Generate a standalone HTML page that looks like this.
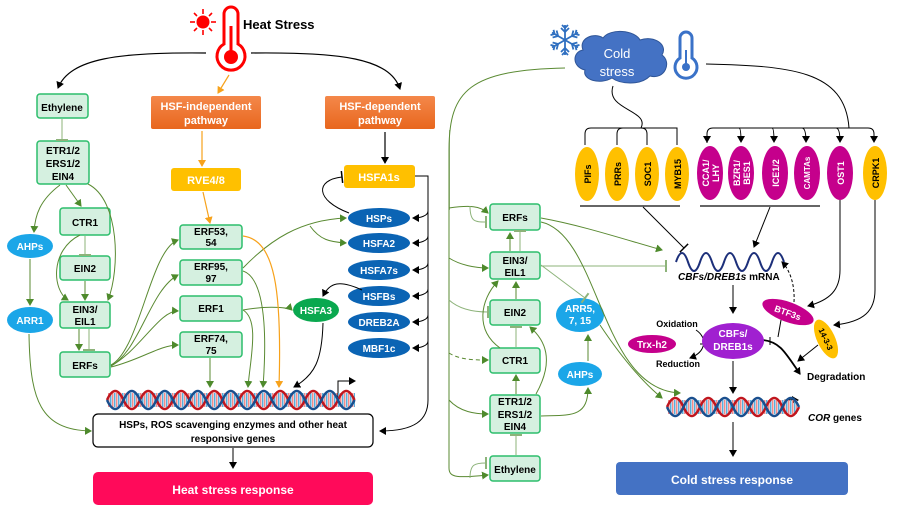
<!DOCTYPE html>
<html><head><meta charset="utf-8"><style>
html,body{margin:0;padding:0;background:#fff}
svg{display:block}
text{font-family:"Liberation Sans",Arial,sans-serif;font-weight:bold}
</style></head><body>
<svg width="900" height="519" viewBox="0 0 900 519" xmlns="http://www.w3.org/2000/svg">
<defs>
<marker id="ak" markerWidth="8" markerHeight="8" refX="6" refY="4" orient="auto" markerUnits="userSpaceOnUse"><path d="M0,0 L7,4 L0,8 Z" fill="#000"/></marker>
<marker id="ag" markerWidth="8" markerHeight="8" refX="6" refY="4" orient="auto" markerUnits="userSpaceOnUse"><path d="M0,0 L7,4 L0,8 Z" fill="#4E8A2C"/></marker>
<marker id="ao" markerWidth="8" markerHeight="8" refX="6" refY="4" orient="auto" markerUnits="userSpaceOnUse"><path d="M0,0 L7,4 L0,8 Z" fill="#F7A21B"/></marker>
<marker id="tg" markerWidth="4" markerHeight="12" refX="2" refY="6" orient="auto" markerUnits="userSpaceOnUse"><path d="M2,0 L2,12" stroke="#8DB37A" stroke-width="2"/></marker>
<marker id="tk" markerWidth="4" markerHeight="12" refX="2" refY="6" orient="auto" markerUnits="userSpaceOnUse"><path d="M2,0 L2,12" stroke="#000" stroke-width="1.5"/></marker>
<pattern id="rung" width="4" height="20" patternUnits="userSpaceOnUse"><rect x="0" y="0" width="1.5" height="20" fill="#F08C8C"/><rect x="2" y="0" width="1.5" height="20" fill="#5AAEDC"/></pattern>
<linearGradient id="og" x1="0" y1="0" x2="0" y2="1"><stop offset="0" stop-color="#F4884A"/><stop offset="1" stop-color="#E8671E"/></linearGradient>
<g id="arm"><line x1="0" y1="0" x2="0" y2="-15" /><line x1="0" y1="-8" x2="-4" y2="-12"/><line x1="0" y1="-8" x2="4" y2="-12"/><line x1="0" y1="-12" x2="-3" y2="-15"/><line x1="0" y1="-12" x2="3" y2="-15"/></g>
</defs>

<!-- ===== HEAT SIDE ===== -->
<g stroke="#F00" stroke-width="1.6">
<line x1="190" y1="22" x2="195" y2="22"/><line x1="211" y1="22" x2="216" y2="22"/>
<line x1="203" y1="9" x2="203" y2="14"/><line x1="203" y1="30" x2="203" y2="35"/>
<line x1="194" y1="13" x2="197" y2="16"/><line x1="209" y1="28" x2="212" y2="31"/>
<line x1="212" y1="13" x2="209" y2="16"/><line x1="194" y1="31" x2="197" y2="28"/>
</g>
<circle cx="203" cy="22" r="6.5" fill="#F00"/>
<path d="M224,44 L224,14 A7,7 0 0 1 238,14 L238,44 A14,14 0 1 1 224,44 Z" fill="#fff" stroke="#F00" stroke-width="3"/>
<line x1="231" y1="26" x2="231" y2="52" stroke="#F00" stroke-width="3"/>
<circle cx="231" cy="57" r="7" fill="#F00"/>
<text x="243" y="29" font-size="13">Heat Stress</text>
<path d="M206,53 C120,52 70,58 58,88" fill="none" stroke="#000" stroke-width="1.2" marker-end="url(#ak)"/>
<path d="M251,53 C340,52 390,58 400,89" fill="none" stroke="#000" stroke-width="1.2" marker-end="url(#ak)"/>
<path d="M229,75 L218,93" fill="none" stroke="#F7A21B" stroke-width="1.2" marker-end="url(#ao)"/>

<rect x="151" y="96" width="110" height="33" rx="2" fill="url(#og)"/>
<text x="206" y="110" font-size="11" fill="#fff" text-anchor="middle">HSF-independent</text>
<text x="206" y="124" font-size="11" fill="#fff" text-anchor="middle">pathway</text>
<rect x="325" y="96" width="110" height="33" rx="2" fill="url(#og)"/>
<text x="380" y="110" font-size="11" fill="#fff" text-anchor="middle">HSF-dependent</text>
<text x="380" y="124" font-size="11" fill="#fff" text-anchor="middle">pathway</text>
<line x1="202" y1="131" x2="202" y2="166" stroke="#F7A21B" stroke-width="1.2" marker-end="url(#ao)"/>
<line x1="385" y1="132" x2="385" y2="163" stroke="#000" stroke-width="1.2" marker-end="url(#ak)"/>
<rect x="171" y="168" width="70" height="23" rx="3" fill="#FFC000"/>
<text x="206" y="184" font-size="11" fill="#fff" text-anchor="middle">RVE4/8</text>
<rect x="344" y="165" width="71" height="23" rx="3" fill="#FFC000"/>
<text x="379" y="181" font-size="11" fill="#fff" text-anchor="middle">HSFA1s</text>
<line x1="203" y1="192" x2="210" y2="223" stroke="#F7A21B" stroke-width="1.2" marker-end="url(#ao)"/>

<g fill="#D5F0E0" stroke="#2DBE6C" stroke-width="1.5">
<rect x="37" y="94" width="51" height="24" rx="3"/>
<rect x="37" y="141" width="52" height="43" rx="3"/>
<rect x="60" y="208" width="50" height="27" rx="3"/>
<rect x="60" y="256" width="50" height="24" rx="3"/>
<rect x="60" y="302" width="50" height="26" rx="3"/>
<rect x="60" y="352" width="50" height="25" rx="3"/>
<rect x="180" y="225" width="62" height="24" rx="3"/>
<rect x="180" y="260" width="62" height="25" rx="3"/>
<rect x="180" y="296" width="62" height="25" rx="3"/>
<rect x="180" y="332" width="62" height="25" rx="3"/>
</g>
<g font-size="10" text-anchor="middle">
<text x="62" y="111">Ethylene</text>
<text x="63" y="154">ETR1/2</text><text x="63" y="167">ERS1/2</text><text x="63" y="180">EIN4</text>
<text x="85" y="226">CTR1</text>
<text x="85" y="272">EIN2</text>
<text x="85" y="313">EIN3/</text><text x="85" y="325">EIL1</text>
<text x="85" y="369">ERFs</text>
<text x="211" y="235">ERF53,</text><text x="211" y="246">54</text>
<text x="211" y="270">ERF95,</text><text x="211" y="282">97</text>
<text x="211" y="312">ERF1</text>
<text x="211" y="342">ERF74,</text><text x="211" y="354">75</text>
</g>
<ellipse cx="30" cy="246" rx="23" ry="12" fill="#1BA6E8"/>
<text x="30" y="250" font-size="10" fill="#fff" text-anchor="middle">AHPs</text>
<ellipse cx="30" cy="320" rx="23" ry="13" fill="#1BA6E8"/>
<text x="30" y="324" font-size="10" fill="#fff" text-anchor="middle">ARR1</text>
<g fill="#0B64B4">
<ellipse cx="379" cy="218" rx="31" ry="10"/><ellipse cx="379" cy="243" rx="31" ry="10"/>
<ellipse cx="379" cy="270" rx="31" ry="10"/><ellipse cx="379" cy="296" rx="31" ry="10"/>
<ellipse cx="379" cy="322" rx="31" ry="10"/><ellipse cx="379" cy="348" rx="31" ry="10"/>
</g>
<g font-size="10" fill="#fff" text-anchor="middle">
<text x="379" y="222">HSPs</text><text x="379" y="247">HSFA2</text><text x="379" y="274">HSFA7s</text>
<text x="379" y="300">HSFBs</text><text x="379" y="326">DREB2A</text><text x="379" y="352">MBF1c</text>
</g>
<ellipse cx="316" cy="310" rx="23" ry="12" fill="#0AA84F"/>
<text x="316" y="314" font-size="10" fill="#fff" text-anchor="middle">HSFA3</text>

<g fill="none" stroke="#5A8A32" stroke-width="1">
<line x1="62" y1="119" x2="62" y2="140" stroke="#8DB37A" marker-end="url(#tg)"/>
<path d="M60,185 C40,200 35,215 34,232" marker-end="url(#ag)"/>
<path d="M66,185 L81,206" marker-end="url(#ag)"/>
<path d="M88,184 C120,200 120,270 108,300" marker-end="url(#ag)"/>
<line x1="85" y1="236" x2="85" y2="255" stroke="#8DB37A" marker-end="url(#tg)"/>
<line x1="85" y1="281" x2="85" y2="300" marker-end="url(#ag)"/>
<path d="M80,235 C50,250 52,290 68,300" marker-end="url(#ag)"/>
<line x1="79" y1="329" x2="79" y2="350" marker-end="url(#ag)"/>
<line x1="89" y1="329" x2="89" y2="350" stroke="#8DB37A" marker-end="url(#tg)"/>
<line x1="30" y1="259" x2="30" y2="305" marker-end="url(#ag)"/>
<path d="M29,334 C30,400 40,430 91,431" marker-end="url(#ag)"/>
<path d="M111,365 C140,350 150,250 178,240" marker-end="url(#ag)"/>
<path d="M111,366 C140,350 150,290 178,275" marker-end="url(#ag)"/>
<path d="M111,366 C140,350 160,310 178,311" marker-end="url(#ag)"/>
<path d="M111,367 C140,360 160,345 178,345" marker-end="url(#ag)"/>
<line x1="210" y1="358" x2="210" y2="387" marker-end="url(#ag)"/>
<path d="M243,310 C260,320 250,360 248,387" marker-end="url(#ag)"/>
<path d="M243,271 C270,280 265,360 263,387" marker-end="url(#ag)"/>
<path d="M243,310 C270,305 290,308 292,310" marker-end="url(#ag)"/>
<path d="M243,268 C270,240 300,220 346,218" marker-end="url(#ag)"/>
<path d="M310,226 C320,240 330,242 346,243" marker-end="url(#ag)"/>
</g>
<path d="M243,236 C275,240 282,290 279,387" fill="none" stroke="#F7A21B" stroke-width="1.2" marker-end="url(#ao)"/>
<g fill="none" stroke="#000" stroke-width="1">
<path d="M349,213 C315,200 315,180 342,177" marker-end="url(#tk)"/>
<path d="M415,176 L428,176 L428,400 C428,420 415,431 380,431" marker-end="url(#ak)"/>
<path d="M428,211 C428,216 420,218 413,218" marker-end="url(#ak)"/>
<path d="M428,236 C428,241 420,243 413,243" marker-end="url(#ak)"/>
<path d="M428,263 C428,268 420,270 413,270" marker-end="url(#ak)"/>
<path d="M428,289 C428,294 420,296 413,296" marker-end="url(#ak)"/>
<path d="M428,315 C428,320 420,322 413,322" marker-end="url(#ak)"/>
<path d="M428,341 C428,346 420,348 413,348" marker-end="url(#ak)"/>
<path d="M362,290 C340,280 330,282 323,296" marker-end="url(#ak)"/>
<path d="M323,323 C322,360 315,375 294,387" marker-end="url(#ak)"/>
<path d="M338,401 L338,381 L355,381" marker-end="url(#ak)"/>
<line x1="233" y1="448" x2="233" y2="468" marker-end="url(#ak)"/>
</g>
<rect x="108" y="393" width="247" height="14" fill="url(#rung)"/>
<path d="M107,400 q8.25,-18 16.5,0 t16.5,0 t16.5,0 t16.5,0 t16.5,0 t16.5,0 t16.5,0 t16.5,0 t16.5,0 t16.5,0 t16.5,0 t16.5,0 t16.5,0 t16.5,0 t16.5,0" fill="none" stroke="#C0161E" stroke-width="2.5"/>
<path d="M107,400 q8.25,18 16.5,0 t16.5,0 t16.5,0 t16.5,0 t16.5,0 t16.5,0 t16.5,0 t16.5,0 t16.5,0 t16.5,0 t16.5,0 t16.5,0 t16.5,0 t16.5,0 t16.5,0" fill="none" stroke="#1A4F8E" stroke-width="2.5"/>
<rect x="93" y="414" width="280" height="33" rx="5" fill="#fff" stroke="#000" stroke-width="1.2"/>
<text x="233" y="428" font-size="10" text-anchor="middle">HSPs, ROS scavenging enzymes and other heat</text>
<text x="233" y="442" font-size="10" text-anchor="middle">responsive genes</text>
<rect x="93" y="472" width="280" height="33" rx="5" fill="#FF0A5A"/>
<text x="233" y="494" font-size="12" fill="#fff" text-anchor="middle">Heat stress response</text>

<line x1="449.5" y1="130" x2="449.5" y2="210" stroke="#A8C09A" stroke-width="1"/>

<!-- ===== COLD SIDE ===== -->
<g stroke="#2F6FC0" stroke-width="1.8" fill="none" transform="translate(565,40)">
<use href="#arm"/><use href="#arm" transform="rotate(60)"/><use href="#arm" transform="rotate(120)"/>
<use href="#arm" transform="rotate(180)"/><use href="#arm" transform="rotate(240)"/><use href="#arm" transform="rotate(300)"/>
</g>
<path d="M583,50 C578,38 595,32 603,38 C610,28 635,30 640,40 C655,35 668,45 662,55 C672,62 665,80 650,76 C640,86 620,84 612,78 C600,85 582,80 585,70 C572,67 572,52 583,50 Z" fill="#4472C4" stroke="#2F5597"/>
<text x="617" y="58" font-size="13" fill="#fff" text-anchor="middle" style="font-weight:normal">Cold</text>
<text x="617" y="76" font-size="13" fill="#fff" text-anchor="middle" style="font-weight:normal">stress</text>
<path d="M680,58 L680,38 A5,5 0 0 1 692,38 L692,58 A11,11 0 1 1 680,58 Z" fill="#fff" stroke="#3A72C8" stroke-width="3"/>
<line x1="686" y1="50" x2="686" y2="64" stroke="#3A72C8" stroke-width="2"/><circle cx="686" cy="67" r="4" fill="#3A72C8"/>
<g fill="none" stroke="#000" stroke-width="1">
<path d="M613,86 C605,110 650,110 641,128"/>
<path d="M585,145 L585,134 Q585,128 591,128 L677,128 L677,145" />
<path d="M617,145 L617,134 Q617,128 623,128"/><path d="M647,145 L647,134 Q647,128 641,128"/>
<path d="M706,64 C790,66 845,70 849,128"/>
<path d="M707,143 L707,134 Q707,128 713,128 L868,128 Q874,128 874,134 L874,142" marker-end="url(#ak)"/>
<path d="M739,128 Q741,128 741,142" marker-end="url(#ak)"/><path d="M772,128 Q774,128 774,142" marker-end="url(#ak)"/>
<path d="M802,128 Q806,128 806,142" marker-end="url(#ak)"/><path d="M836,128 Q840,128 840,142" marker-end="url(#ak)"/>
<line x1="707" y1="134" x2="707" y2="142" marker-end="url(#ak)"/>
<line x1="580" y1="206" x2="680" y2="206" stroke="#333" stroke-width="1.5"/>
<line x1="700" y1="206" x2="820" y2="206" stroke="#333" stroke-width="1.5"/>
<line x1="643" y1="207" x2="684" y2="248" marker-end="url(#tk)"/>
<line x1="770" y1="207" x2="754" y2="247" marker-end="url(#ak)"/>
<path d="M840,200 L840,270 C840,290 830,300 808,306" marker-end="url(#ak)"/>
<path d="M875,200 L875,290 C875,310 865,322 834,325" marker-end="url(#ak)"/>
<path d="M794,302 C795,285 790,270 782,262" stroke-dasharray="3,2" marker-end="url(#ak)"/>
<line x1="781" y1="320" x2="778" y2="337"/>
<line x1="733" y1="285" x2="733" y2="313" marker-end="url(#ak)"/>
<path d="M700,344 L713,344" marker-end="url(#ak)"/>
<path d="M696,330 C708,338 706,352 690,358" marker-end="url(#ak)"/>
<line x1="733" y1="361" x2="733" y2="393" marker-end="url(#ak)"/>
<path d="M818,345 L798,361" marker-end="url(#ak)"/>
<line x1="733" y1="422" x2="733" y2="456" marker-end="url(#ak)"/>
<path d="M785,409 L785,400 L798,400" marker-end="url(#ak)"/>
</g>
<path d="M763,340 C780,342 785,352 800,374" fill="none" stroke="#000" stroke-width="1.8" marker-end="url(#ak)"/>
<line x1="770" y1="337" x2="770" y2="345" stroke="#000"/>
<g fill="#FFC000"><ellipse cx="587" cy="174" rx="12" ry="27"/><ellipse cx="617" cy="174" rx="12" ry="27"/><ellipse cx="647" cy="174" rx="12" ry="27"/><ellipse cx="677" cy="174" rx="12" ry="27"/><ellipse cx="875" cy="173" rx="12" ry="27"/></g>
<g fill="#C5008C"><ellipse cx="710" cy="173" rx="13" ry="27"/><ellipse cx="741" cy="173" rx="13" ry="27"/><ellipse cx="775" cy="173" rx="13" ry="27"/><ellipse cx="807" cy="173" rx="13" ry="27"/><ellipse cx="840" cy="173" rx="13" ry="27"/></g>
<g font-size="9">
<text transform="translate(591,174) rotate(-90)" text-anchor="middle">PIFs</text>
<text transform="translate(621,174) rotate(-90)" text-anchor="middle">PRRs</text>
<text transform="translate(651,174) rotate(-90)" text-anchor="middle">SOC1</text>
<text transform="translate(681,174) rotate(-90)" text-anchor="middle">MYB15</text>
<text transform="translate(879,173) rotate(-90)" text-anchor="middle">CRPK1</text>
<g fill="#fff"><text transform="translate(709,173) rotate(-90)" text-anchor="middle">CCA1/</text><text transform="translate(719,173) rotate(-90)" text-anchor="middle">LHY</text>
<text transform="translate(740,173) rotate(-90)" text-anchor="middle">BZR1/</text><text transform="translate(750,173) rotate(-90)" text-anchor="middle">BES1</text>
<text transform="translate(779,173) rotate(-90)" text-anchor="middle">ICE1/2</text>
<text transform="translate(810,173) rotate(-90)" text-anchor="middle" font-size="8">CAMTAs</text>
<text transform="translate(844,173) rotate(-90)" text-anchor="middle">OST1</text></g>
</g>
<path d="M676,262 q6,-18 12,0 t12,0 q6,-18 12,0 t12,0 q6,-18 12,0 t12,0 q6,-18 12,0 t12,0 q6,-18 12,0" fill="none" stroke="#1C2F7A" stroke-width="2"/>
<text x="678" y="280" font-size="10"><tspan font-style="italic">CBFs/DREB1s</tspan> mRNA</text>

<g fill="#D5F0E0" stroke="#2DBE6C" stroke-width="1.5">
<rect x="490" y="204" width="50" height="26" rx="3"/>
<rect x="490" y="252" width="50" height="27" rx="3"/>
<rect x="490" y="300" width="50" height="25" rx="3"/>
<rect x="490" y="348" width="50" height="25" rx="3"/>
<rect x="490" y="395" width="50" height="38" rx="3"/>
<rect x="490" y="456" width="50" height="25" rx="3"/>
</g>
<g font-size="10" text-anchor="middle">
<text x="515" y="221">ERFs</text>
<text x="515" y="264">EIN3/</text><text x="515" y="276">EIL1</text>
<text x="515" y="316">EIN2</text>
<text x="515" y="364">CTR1</text>
<text x="515" y="405">ETR1/2</text><text x="515" y="418">ERS1/2</text><text x="515" y="430">EIN4</text>
<text x="515" y="473">Ethylene</text>
</g>
<ellipse cx="580" cy="315" rx="24" ry="17" fill="#1BA6E8"/>
<text x="580" y="312" font-size="10" fill="#fff" text-anchor="middle">ARR5,</text>
<text x="580" y="324" font-size="10" fill="#fff" text-anchor="middle">7, 15</text>
<ellipse cx="580" cy="374" rx="22" ry="12" fill="#1BA6E8"/>
<text x="580" y="378" font-size="10" fill="#fff" text-anchor="middle">AHPs</text>
<g fill="none" stroke="#5A8A32" stroke-width="1">
<path d="M565,68 C470,70 449,90 449,150 L449,468 C449,478 458,478 488,475" marker-end="url(#ag)"/>
<path d="M449,208 C470,205 480,206 488,213" marker-end="url(#ag)"/>
<path d="M470,206 C470,222 475,222 486,222" stroke="#8DB37A" marker-end="url(#tg)"/>
<path d="M449,258 C460,265 475,268 488,268" marker-end="url(#ag)"/>
<path d="M449,300 C460,310 475,312 488,312" stroke="#8DB37A" marker-end="url(#tg)"/>
<path d="M449,353 C460,360 475,360 488,360" stroke-dasharray="4,3" marker-end="url(#ag)"/>
<path d="M449,400 C460,412 475,414 488,414" marker-end="url(#ag)"/>
<path d="M470,478 C470,464 475,463 486,463" stroke="#8DB37A" marker-end="url(#tg)"/>
<line x1="510" y1="251" x2="510" y2="233" marker-end="url(#ag)"/>
<line x1="520" y1="251" x2="520" y2="231" stroke="#8DB37A" marker-end="url(#tg)"/>
<line x1="516" y1="299" x2="516" y2="282" marker-end="url(#ag)"/>
<line x1="516" y1="347" x2="516" y2="327" stroke="#8DB37A" marker-end="url(#tg)"/>
<line x1="516" y1="394" x2="516" y2="375" marker-end="url(#ag)"/>
<line x1="516" y1="455" x2="516" y2="435" stroke="#8DB37A" marker-end="url(#tg)"/>
<path d="M500,348 C475,330 480,300 498,281" marker-end="url(#ag)"/>
<path d="M536,394 C555,360 545,340 530,327" marker-end="url(#ag)"/>
<path d="M541,416 C570,415 588,418 588,388" marker-end="url(#ag)"/>
<line x1="588" y1="361" x2="588" y2="335" marker-end="url(#ag)"/>
<path d="M541,265 L585,298" stroke="#8DB37A" marker-end="url(#tg)" />
<path d="M541,266 L666,266" stroke="#8DB37A" marker-end="url(#tg)"/>
<path d="M541,218 C580,225 620,238 662,250" marker-end="url(#ag)"/>
<path d="M541,222 C600,235 600,390 680,393" marker-end="url(#ag)"/>
<path d="M600,325 C620,355 640,380 662,398" marker-end="url(#ag)"/>
</g>
<ellipse cx="652" cy="344" rx="24" ry="9" fill="#C5008C"/>
<text x="652" y="348" font-size="10" fill="#fff" text-anchor="middle">Trx-h2</text>
<text x="677" y="327" font-size="9" text-anchor="middle">Oxidation</text>
<text x="678" y="367" font-size="9" text-anchor="middle">Reduction</text>
<ellipse cx="733" cy="341" rx="31" ry="18" fill="#A020D0"/>
<text x="733" y="337" font-size="10" fill="#fff" text-anchor="middle">CBFs/</text>
<text x="733" y="350" font-size="10" fill="#fff" text-anchor="middle">DREB1s</text>
<ellipse cx="788" cy="312" rx="27" ry="10" fill="#C5008C" transform="rotate(20 788 312)"/>
<text x="788" y="316" font-size="9" fill="#fff" text-anchor="middle" transform="rotate(20 788 312)">BTF3s</text>
<ellipse cx="826" cy="339" rx="21" ry="9" fill="#FFC000" transform="rotate(65 826 339)"/>
<text x="826" y="342" font-size="8" text-anchor="middle" transform="rotate(65 826 339)">14-3-3</text>
<text x="807" y="380" font-size="10">Degradation</text>
<rect x="668" y="400" width="129" height="14" fill="url(#rung)"/>
<path d="M667,407 q8.25,-18 16.5,0 t16.5,0 t16.5,0 t16.5,0 t16.5,0 t16.5,0 t16.5,0 t16.5,0" fill="none" stroke="#C0161E" stroke-width="2.5"/>
<path d="M667,407 q8.25,18 16.5,0 t16.5,0 t16.5,0 t16.5,0 t16.5,0 t16.5,0 t16.5,0 t16.5,0" fill="none" stroke="#1A4F8E" stroke-width="2.5"/>
<text x="808" y="421" font-size="10"><tspan font-style="italic">COR</tspan> genes</text>
<rect x="616" y="462" width="232" height="33" rx="4" fill="#4472C4"/>
<text x="732" y="484" font-size="12" fill="#fff" text-anchor="middle">Cold stress response</text>
</svg>
</body></html>
